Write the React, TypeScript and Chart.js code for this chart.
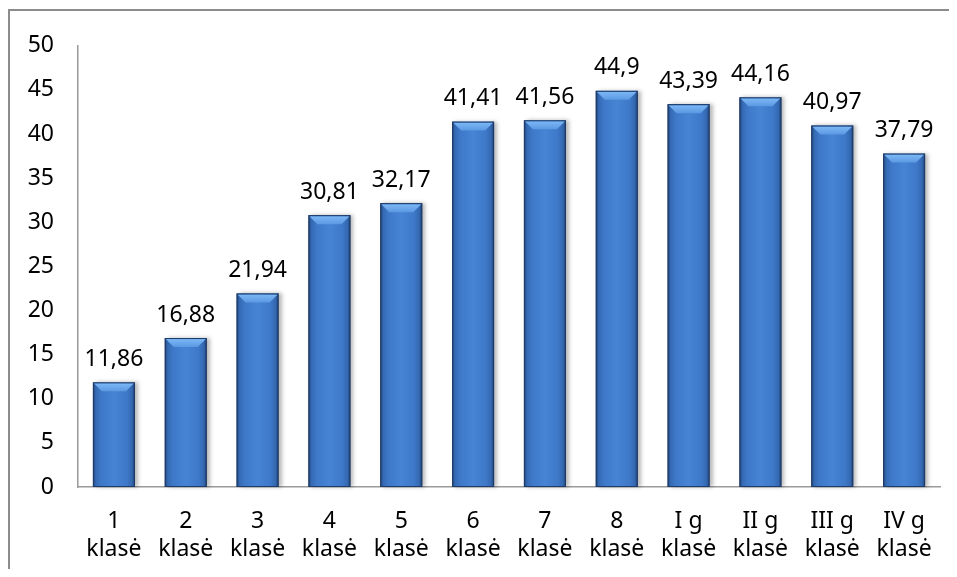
import React, { useEffect, useRef } from "react";
import { Chart, registerables } from "chart.js";

Chart.register(...registerables);

const categories: string[][] = [
  ["1", "klasė"],
  ["2", "klasė"],
  ["3", "klasė"],
  ["4", "klasė"],
  ["5", "klasė"],
  ["6", "klasė"],
  ["7", "klasė"],
  ["8", "klasė"],
  ["I g", "klasė"],
  ["II g", "klasė"],
  ["III g", "klasė"],
  ["IV g", "klasė"],
];
const values: number[] = [11.86, 16.88, 21.94, 30.81, 32.17, 41.41, 41.56, 44.9, 43.39, 44.16, 40.97, 37.79];
const yMin = 0;
const yMax = 50;
const yStep = 5;

const FONT = '"Noto Sans", "DejaVu Sans", sans-serif';
const FONT_SIZE = 23;

const fancyBars = {
  id: "fancyBars",
  afterDatasetsDraw(chart: any) {
    const ctx: CanvasRenderingContext2D = chart.ctx;
    const meta = chart.getDatasetMeta(0);
    const data = chart.data.datasets[0].data as number[];
    meta.data.forEach((bar: any, i: number) => {
      const { x, y, base, width } = bar.getProps(["x", "y", "base", "width"], true);
      const l = x - width / 2;
      const r = x + width / 2;
      const t = y;
      const b = base;
      ctx.save();
      ctx.shadowColor = "rgba(0,0,0,0.28)";
      ctx.shadowBlur = 4;
      ctx.shadowOffsetX = 3;
      ctx.shadowOffsetY = 0;
      const g = ctx.createLinearGradient(l, 0, r, 0);
      g.addColorStop(0, "#213f70");
      g.addColorStop(0.07, "#3569b3");
      g.addColorStop(0.2, "#3e79c9");
      g.addColorStop(0.5, "#4784d3");
      g.addColorStop(0.8, "#3e79c9");
      g.addColorStop(0.93, "#3468b1");
      g.addColorStop(1, "#203e6e");
      ctx.fillStyle = g;
      ctx.fillRect(l, t, width, b - t);
      ctx.restore();
      const bv = Math.min(9, (b - t) / 2);
      ctx.save();
      const gt = ctx.createLinearGradient(0, t, 0, t + bv);
      gt.addColorStop(0, "#80bcf8");
      gt.addColorStop(1, "#5b98e2");
      ctx.fillStyle = gt;
      ctx.beginPath();
      ctx.moveTo(l + 1, t + 1);
      ctx.lineTo(r - 1, t + 1);
      ctx.lineTo(r - bv, t + bv);
      ctx.lineTo(l + bv, t + bv);
      ctx.closePath();
      ctx.fill();
      ctx.restore();
      ctx.save();
      ctx.strokeStyle = "#1d3b68";
      ctx.lineWidth = 1;
      ctx.strokeRect(l + 0.5, t + 0.5, width - 1, b - t - 1);
      ctx.restore();
      ctx.save();
      ctx.fillStyle = "#000";
      ctx.font = `${FONT_SIZE}px ${FONT}`;
      ctx.textAlign = "center";
      ctx.textBaseline = "middle";
      ctx.fillText(String(data[i]).replace(".", ","), x, t - 23);
      ctx.restore();
    });
  },
};

export default function App() {
  const ref = useRef<HTMLCanvasElement | null>(null);

  useEffect(() => {
    if (!ref.current) return;
    const chart = new Chart(ref.current, {
      type: "bar",
      data: {
        labels: categories,
        datasets: [
          {
            data: values,
            backgroundColor: "rgba(0,0,0,0)",
            borderWidth: 0,
            barPercentage: 0.585,
            categoryPercentage: 1,
          },
        ],
      },
      options: {
        animation: false,
        responsive: false,
        maintainAspectRatio: false,
        layout: { padding: { top: 32, right: 17, left: 0, bottom: 0 } },
        plugins: {
          legend: { display: false },
          tooltip: { enabled: false },
        },
        scales: {
          x: {
            grid: { display: false, drawTicks: false },
            border: { display: true, color: "#9a9a9a", width: 1.5 },
            ticks: {
              color: "#000",
              font: { family: FONT, size: FONT_SIZE, lineHeight: 1.22 },
              padding: 20,
              maxRotation: 0,
              autoSkip: false,
            },
            afterFit: (s: any) => {
              s.height = 82;
            },
          },
          y: {
            min: yMin,
            max: yMax,
            grid: { display: false, drawTicks: false },
            border: { display: true, color: "#9a9a9a", width: 1.5 },
            ticks: {
              stepSize: yStep,
              color: "#000",
              font: { family: FONT, size: FONT_SIZE },
              padding: 24,
            },
            afterFit: (s: any) => {
              s.width = 70;
            },
          },
        },
      },
      plugins: [fancyBars],
    });
    return () => chart.destroy();
  }, []);

  return (
    <div style={{ position: "relative", width: 949, height: 561, overflow: "hidden" }}>
      <canvas ref={ref} width={949} height={561} style={{ display: "block" }} />
      <div
        style={{
          position: "absolute",
          left: 0,
          top: 1,
          width: 1000,
          height: 700,
          borderLeft: "2px solid #8c8c8c",
          borderTop: "2px solid #8c8c8c",
          pointerEvents: "none",
        }}
      />
    </div>
  );
}
